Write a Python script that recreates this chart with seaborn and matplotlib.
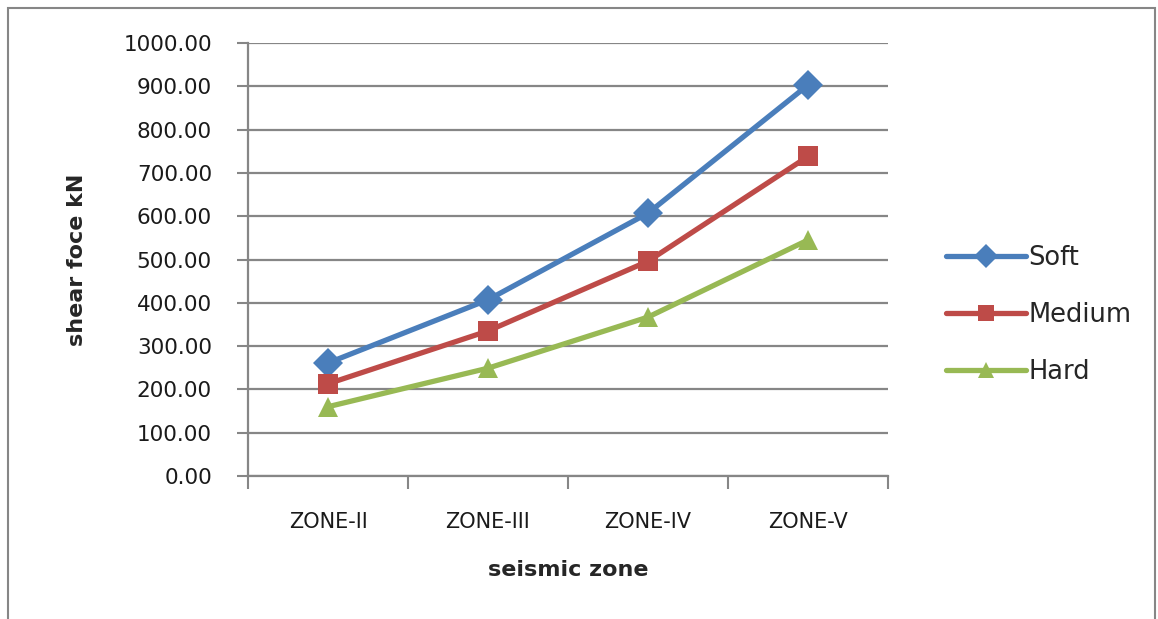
import numpy as np
import pandas as pd
import matplotlib
matplotlib.use("Agg")
import matplotlib.pyplot as plt
import seaborn as sns
from matplotlib.patches import Rectangle

zones = ["ZONE-II", "ZONE-III", "ZONE-IV", "ZONE-V"]
soft = [261, 407, 607, 903]
medium = [213, 335, 496, 738]
hard = [160, 249, 367, 545]
y_ticks = [0, 100, 200, 300, 400, 500, 600, 700, 800, 900, 1000]

df = pd.DataFrame({
    "zone": zones * 3,
    "force": soft + medium + hard,
    "soil": ["Soft"] * 4 + ["Medium"] * 4 + ["Hard"] * 4,
})
df["pos"] = df["zone"].map({z: i for i, z in enumerate(zones)})

sns.set_style("white")
plt.rcParams["font.family"] = ["DejaVu Sans"]

W, H = 1158, 619
fig = plt.figure(figsize=(W / 100, H / 100), dpi=100)
ax = fig.add_axes([248 / W, 1 - 476 / H, (888 - 248) / W, (476 - 43) / H])

palette = {"Soft": "#4A7EBB", "Medium": "#BE4B48", "Hard": "#98B954"}
markers = {"Soft": "D", "Medium": "s", "Hard": "^"}
sns.lineplot(data=df, x="pos", y="force", hue="soil", style="soil",
             palette=palette, markers=markers, dashes=False, lw=3.8,
             markersize=15, markeredgewidth=0, ax=ax)

grey = "#868686"
ax.set_xlim(-0.5, 3.5)
ax.set_ylim(0, 1000)
ax.set_yticks(y_ticks)
ax.set_yticklabels([f"{v:.2f}" for v in y_ticks], fontsize=15.5, color="#1a1a1a")
ax.set_xticks([-0.5, 0.5, 1.5, 2.5, 3.5])
ax.set_xticklabels([])
ax.set_xticks(range(4), minor=True)
ax.set_xticklabels(zones, minor=True, fontsize=15, color="#1a1a1a")
ax.tick_params(axis="x", which="major", bottom=True, length=9, width=1.5,
               color=grey, direction="out")
ax.tick_params(axis="x", which="minor", bottom=True, length=0, pad=26)
ax.tick_params(axis="y", left=True, length=8, width=1.5, color=grey,
               direction="out", pad=18)
ax.yaxis.grid(True, color=grey, lw=1.6)
ax.set_axisbelow(True)
for s in ["top", "right"]:
    ax.spines[s].set_visible(False)
for s in ["left", "bottom"]:
    ax.spines[s].set_color(grey)
    ax.spines[s].set_linewidth(1.6)

ax.set_xlabel("seismic zone", fontsize=16, fontweight="bold", labelpad=20)
ax.set_ylabel("shear foce kN", fontsize=16, fontweight="bold", labelpad=26)

sns.move_legend(ax, "center left", bbox_to_anchor=(1.055, 0.372), frameon=False,
                title=None, fontsize=18.5, handlelength=3.1, labelspacing=1.2,
                handletextpad=0.1)
for h in ax.get_legend().legend_handles:
    h.set_markersize(12)

fig.patches.append(Rectangle((8 / W, -0.02), (1155 - 8) / W, 1 - 8 / H + 0.02,
                             transform=fig.transFigure, fill=False,
                             edgecolor=grey, lw=1.5))

fig.savefig("out.png", dpi=100)
